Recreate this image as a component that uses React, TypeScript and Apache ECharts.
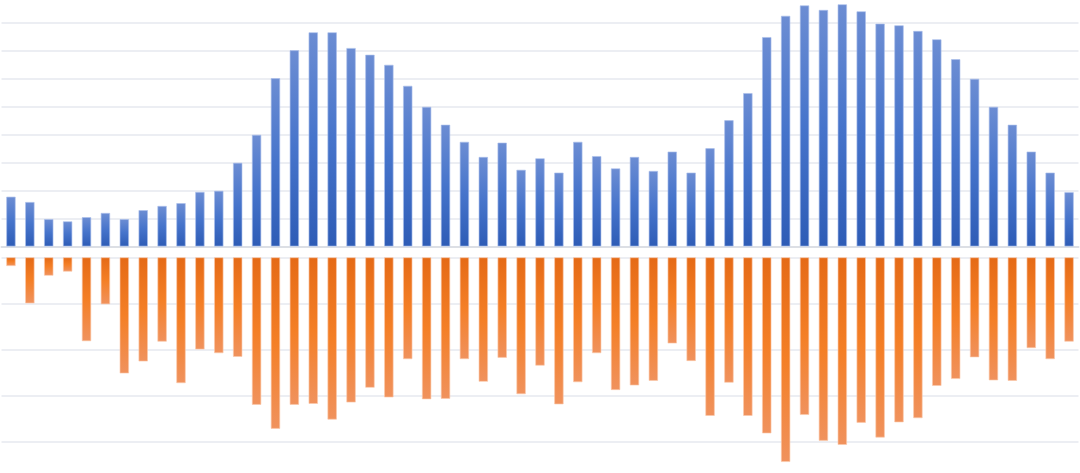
import React, { useEffect, useRef } from "react";
import * as echarts from "echarts";

const categories: string[] = Array.from({ length: 57 }, (_, i) => String(i + 1));

const upperValues: number[] = [
  17.8, 15.9, 9.8, 9.0, 10.5, 12.0, 9.8, 13.0, 14.5, 15.5,
  19.5, 19.9, 29.9, 39.9, 60.1, 70.1, 76.5, 76.5, 70.9, 68.5,
  64.9, 57.4, 49.9, 43.5, 37.4, 32.0, 37.1, 27.4, 31.5, 26.4,
  37.4, 32.3, 27.9, 32.0, 27.0, 33.9, 26.4, 35.1, 45.1, 54.8,
  74.8, 82.4, 86.1, 84.5, 86.5, 84.0, 79.6, 79.0, 77.0, 74.0,
  66.9, 59.9, 49.9, 43.5, 33.9, 26.4, 19.4,
];

const lowerValues: number[] = [
  1.9, 10.0, 4.0, 3.1, 18.2, 10.2, 25.2, 22.6, 18.3, 27.3,
  20.0, 20.8, 21.6, 32.0, 37.2, 32.0, 31.8, 35.2, 31.5, 28.3,
  30.4, 22.1, 30.8, 30.7, 22.1, 27.0, 21.8, 29.7, 23.5, 31.9,
  27.1, 20.8, 28.8, 27.8, 26.8, 18.7, 22.5, 34.4, 27.2, 34.4,
  38.2, 44.4, 34.2, 39.8, 40.7, 35.9, 39.1, 35.8, 34.9, 27.9,
  26.4, 21.7, 26.7, 26.8, 19.7, 22.1, 18.3,
];

export default function App() {
  const ref = useRef<HTMLDivElement>(null);
  useEffect(() => {
    if (!ref.current) return;
    const chart = echarts.init(ref.current, undefined, { renderer: "svg" });
    const gridLine = { lineStyle: { color: "#e6e9ef", width: 1.5 } };
    chart.setOption({
      animation: false,
      backgroundColor: "#ffffff",
      grid: [
        { left: 1.5, right: 1.5, top: 1.5, height: 245 },
        { left: 1.5, right: 1.5, top: 257.3, height: 207.45 },
      ],
      xAxis: [
        {
          type: "category",
          gridIndex: 0,
          data: categories,
          axisLine: { show: true, lineStyle: { color: "#dcdfe5", width: 2 } },
          axisTick: { show: false },
          axisLabel: { show: false },
        },
        {
          type: "category",
          gridIndex: 1,
          data: categories,
          position: "top",
          axisLine: { show: false },
          axisTick: { show: false },
          axisLabel: { show: false },
        },
      ],
      yAxis: [
        {
          type: "value",
          gridIndex: 0,
          min: 0,
          max: 87.5,
          interval: 10,
          axisLine: { show: false },
          axisTick: { show: false },
          axisLabel: { show: false },
          splitLine: { show: true, showMaxLine: false, ...gridLine },
        },
        {
          type: "value",
          gridIndex: 1,
          min: 0,
          max: 45,
          interval: 10,
          inverse: true,
          axisLine: { show: false },
          axisTick: { show: false },
          axisLabel: { show: false },
          splitLine: { show: true, showMaxLine: false, ...gridLine },
        },
      ],
      series: [
        {
          type: "bar",
          xAxisIndex: 0,
          yAxisIndex: 0,
          data: upperValues,
          barWidth: 9.4,
          itemStyle: {
            color: new echarts.graphic.LinearGradient(0, 0, 0, 1, [
              { offset: 0, color: "#6c8dd3" },
              { offset: 0.5, color: "#4674cb" },
              { offset: 1, color: "#2e5cb6" },
            ]),
            borderColor: "rgba(170,190,235,0.8)",
            borderWidth: 0.8,
          },
        },
        {
          type: "bar",
          xAxisIndex: 1,
          yAxisIndex: 1,
          data: lowerValues,
          barWidth: 9.4,
          itemStyle: {
            color: new echarts.graphic.LinearGradient(0, 0, 0, 1, [
              { offset: 0, color: "#e56a16" },
              { offset: 0.5, color: "#f47f26" },
              { offset: 1, color: "#f0925d" },
            ]),
            borderColor: "rgba(250,200,170,0.8)",
            borderWidth: 0.8,
          },
        },
      ],
    });
    return () => chart.dispose();
  }, []);
  return (
    <div
      ref={ref}
      style={{ position: "fixed", left: 0, top: 0, width: 1080, height: 473 }}
    />
  );
}
